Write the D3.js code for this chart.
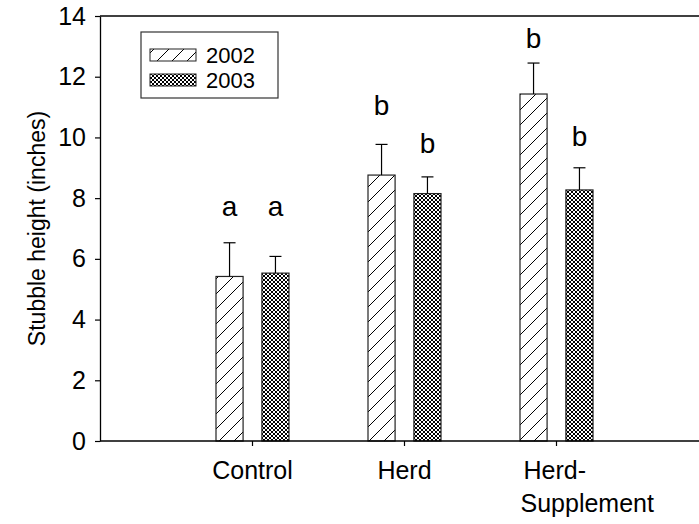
<!DOCTYPE html>
<html>
<head>
<meta charset="utf-8">
<script src="https://cdn.jsdelivr.net/npm/d3@7"></script>
<style>
  html, body { margin: 0; padding: 0; background: #fff; }
  svg { display: block; font-family: "Liberation Sans", Arial, sans-serif; }
</style>
</head>
<body>
<div id="chart"></div>
<script>
// treatments and years
const categories = ['Control', 'Herd', 'Herd-Supplement'];
const years = ['2002', '2003'];

// mean stubble height (inches), per year
const values2002 = [5.42, 8.76, 11.43];
const values2003 = [5.53, 8.15, 8.27];
// upper error bar tops (mean + SE)
const err2002 = [6.53, 9.77, 12.45];
const err2003 = [6.08, 8.70, 9.00];
// significance letters and the height they sit at
const letters2002 = ['a', 'b', 'b'];
const letters2003 = ['a', 'b', 'b'];
const letterY2002 = [7.4, 10.75, 12.95];
const letterY2003 = [7.4, 9.5, 9.72];

const yTicks = [0, 2, 4, 6, 8, 10, 12, 14];

const width = 699;
const height = 524;
const margin = { top: 16, left: 100, bottom: 83 };
const plotBottom = height - margin.bottom;
const font = '"Liberation Sans", Arial, sans-serif';

const svg = d3.select('#chart').append('svg')
    .attr('width', width)
    .attr('height', height);

const defs = svg.append('defs');

// 2002: wide diagonal hatch
const hatch = defs.append('pattern')
    .attr('id', 'hatch2002')
    .attr('patternUnits', 'userSpaceOnUse')
    .attr('width', 15)
    .attr('height', 15);
hatch.append('rect').attr('width', 15).attr('height', 15).attr('fill', '#fff');
hatch.append('path')
    .attr('d', 'M0,15 L15,0 M-3,3 L3,-3 M12,18 L18,12')
    .attr('stroke', '#000')
    .attr('stroke-width', 1);

// 2003: fine cross hatch
const cross = defs.append('pattern')
    .attr('id', 'cross2003')
    .attr('patternUnits', 'userSpaceOnUse')
    .attr('width', 4)
    .attr('height', 4);
cross.append('rect').attr('width', 4).attr('height', 4).attr('fill', '#fff');
cross.append('path')
    .attr('d', 'M0,0 L4,4 M0,4 L4,0')
    .attr('stroke', '#000')
    .attr('stroke-width', 1);

const fills = { '2002': 'url(#hatch2002)', '2003': 'url(#cross2003)' };

const x = d3.scalePoint()
    .domain(categories)
    .range([margin.left, 708])
    .padding(1);

const xSub = d3.scaleBand()
    .domain(years)
    .range([-36, 37])
    .paddingInner(0.41);

const y = d3.scaleLinear()
    .domain([0, 14])
    .range([plotBottom, margin.top]);

// rows built from the arrays
const rows = [];
categories.forEach((c, i) => {
    rows.push({ cat: c, year: '2002', v: values2002[i], e: err2002[i], l: letters2002[i], ly: letterY2002[i] });
    rows.push({ cat: c, year: '2003', v: values2003[i], e: err2003[i], l: letters2003[i], ly: letterY2003[i] });
});
const cx = (d) => x(d.cat) + xSub(d.year) + xSub.bandwidth() / 2;

// top frame line
svg.append('line')
    .attr('x1', margin.left).attr('x2', width)
    .attr('y1', y(14)).attr('y2', y(14))
    .attr('stroke', '#000').attr('stroke-width', 1.3);

// bars
svg.selectAll('rect.bar')
    .data(rows)
    .join('rect')
    .attr('class', 'bar')
    .attr('x', (d) => x(d.cat) + xSub(d.year))
    .attr('width', xSub.bandwidth())
    .attr('y', (d) => y(d.v))
    .attr('height', (d) => y(0) - y(d.v))
    .attr('fill', (d) => fills[d.year])
    .attr('stroke', '#222')
    .attr('stroke-width', 1.2);

// error bars (upper only)
const eb = svg.selectAll('g.err').data(rows).join('g').attr('class', 'err');
eb.append('line')
    .attr('x1', cx).attr('x2', cx)
    .attr('y1', (d) => y(d.v))
    .attr('y2', (d) => y(d.e))
    .attr('stroke', '#000').attr('stroke-width', 1.2);
eb.append('line')
    .attr('x1', (d) => cx(d) - 6)
    .attr('x2', (d) => cx(d) + 6)
    .attr('y1', (d) => y(d.e))
    .attr('y2', (d) => y(d.e))
    .attr('stroke', '#000').attr('stroke-width', 1.2);

// letters
svg.selectAll('text.letter')
    .data(rows)
    .join('text')
    .attr('class', 'letter')
    .attr('x', cx)
    .attr('y', (d) => y(d.ly))
    .attr('text-anchor', 'middle')
    .attr('font-size', 28)
    .text((d) => d.l);

// y axis
const yAxis = svg.append('g')
    .attr('transform', `translate(${margin.left},0)`)
    .call(d3.axisLeft(y).tickValues(yTicks).tickSize(5).tickPadding(9).tickSizeOuter(0));
yAxis.select('.domain').attr('stroke', '#000').attr('stroke-width', 1.3);
yAxis.selectAll('.tick line').attr('stroke', '#000').attr('stroke-width', 1.2);
yAxis.selectAll('.tick text')
    .attr('font-size', 25)
    .attr('font-family', font)
    .attr('fill', '#000');

// x axis
const xAxis = svg.append('g')
    .attr('transform', `translate(0,${plotBottom})`)
    .call(d3.axisBottom(x).tickSize(5).tickSizeOuter(0).tickFormat(''));
xAxis.select('.domain').attr('d', `M${margin.left},0H${width}`)
    .attr('stroke', '#000').attr('stroke-width', 1.3);
xAxis.selectAll('.tick line').attr('stroke', '#000').attr('stroke-width', 1.2);

// category labels (last one wraps after the hyphen)
xAxis.selectAll('.tick').each(function (d) {
    const t = d3.select(this).append('text')
        .attr('fill', '#000')
        .attr('font-size', 25)
        .attr('font-family', font);
    if (d.includes('-')) {
        const parts = d.split('-');
        t.attr('text-anchor', 'start');
        t.append('tspan').attr('x', -33).attr('y', 38).text(parts[0] + '-');
        t.append('tspan').attr('x', -36).attr('y', 71).text(parts[1]);
    } else {
        t.attr('text-anchor', 'middle').attr('y', 38).text(d);
    }
});

// y axis title
svg.append('text')
    .attr('transform', `translate(45,${(y(0) + y(14)) / 2}) rotate(-90)`)
    .attr('text-anchor', 'middle')
    .attr('font-size', 23)
    .text('Stubble height (inches)');

// legend
const lg = svg.append('g').attr('transform', 'translate(141,32)');
lg.append('rect')
    .attr('width', 137).attr('height', 66)
    .attr('fill', '#fff').attr('stroke', '#333').attr('stroke-width', 1.2);
years.forEach((yr, i) => {
    lg.append('rect')
        .attr('x', 9).attr('y', 17 + i * 25)
        .attr('width', 46).attr('height', 12)
        .attr('fill', fills[yr]).attr('stroke', '#222').attr('stroke-width', 1);
    lg.append('text')
        .attr('x', 65).attr('y', 31 + i * 25)
        .attr('font-size', 22)
        .text(yr);
});
</script>
</body>
</html>
